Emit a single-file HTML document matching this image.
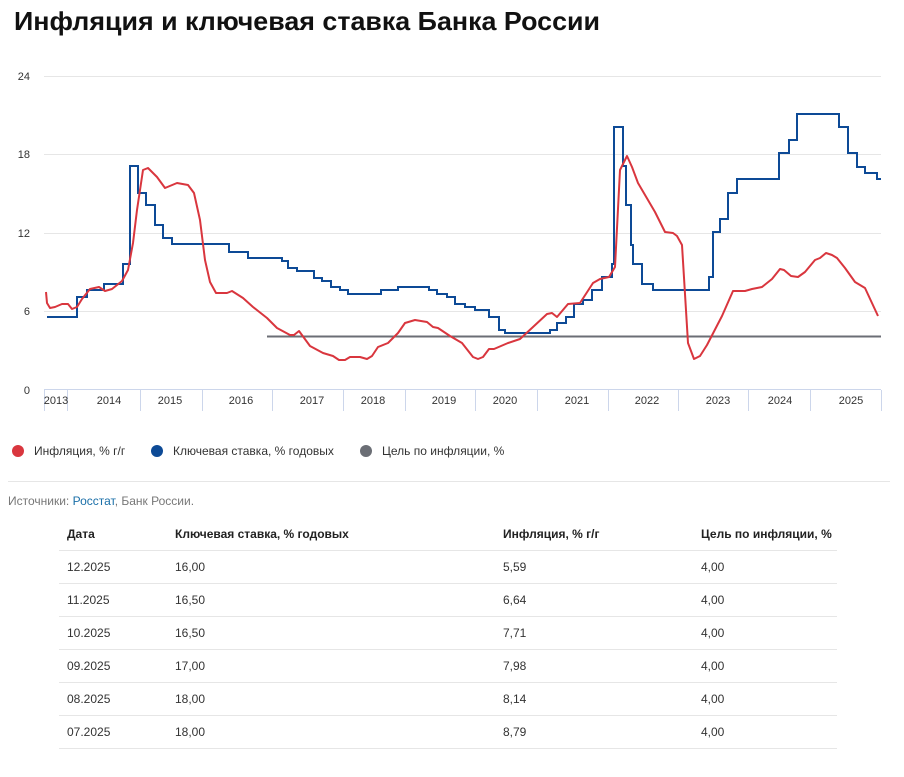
<!DOCTYPE html>
<html><head><meta charset="utf-8"><style>
html,body{margin:0;padding:0;background:#fff;width:904px;height:777px;overflow:hidden}
svg{display:block}
text{font-family:"Liberation Sans",sans-serif}
</style></head><body>
<svg width="904" height="777" viewBox="0 0 904 777" xmlns="http://www.w3.org/2000/svg">
<text x="14" y="30" font-size="26" font-weight="bold" fill="#111" textLength="586" lengthAdjust="spacingAndGlyphs">Инфляция и ключевая ставка Банка России</text>
<g stroke="#e6e6e6" stroke-width="1">
<line x1="44" y1="76.5" x2="881" y2="76.5"/>
<line x1="44" y1="154.5" x2="881" y2="154.5"/>
<line x1="44" y1="233.5" x2="881" y2="233.5"/>
<line x1="44" y1="311.5" x2="881" y2="311.5"/>
</g>
<line x1="44" y1="389.5" x2="881" y2="389.5" stroke="#ccd6eb"/>
<g stroke="#ccd6eb">
<line x1="44.5" y1="390" x2="44.5" y2="411"/><line x1="67.5" y1="390" x2="67.5" y2="411"/>
<line x1="140.5" y1="390" x2="140.5" y2="411"/><line x1="202.5" y1="390" x2="202.5" y2="411"/>
<line x1="272.5" y1="390" x2="272.5" y2="411"/><line x1="343.5" y1="390" x2="343.5" y2="411"/>
<line x1="405.5" y1="390" x2="405.5" y2="411"/><line x1="475.5" y1="390" x2="475.5" y2="411"/>
<line x1="537.5" y1="390" x2="537.5" y2="411"/><line x1="608.5" y1="390" x2="608.5" y2="411"/>
<line x1="678.5" y1="390" x2="678.5" y2="411"/><line x1="748.5" y1="390" x2="748.5" y2="411"/>
<line x1="810.5" y1="390" x2="810.5" y2="411"/><line x1="881.5" y1="390" x2="881.5" y2="411"/>
</g>
<g font-size="11" fill="#333" text-anchor="end">
<text x="30" y="80">24</text><text x="30" y="158">18</text><text x="30" y="237">12</text><text x="30" y="315">6</text><text x="30" y="394">0</text>
</g>
<g font-size="11" fill="#333" text-anchor="middle">
<text x="56" y="404">2013</text><text x="109" y="404">2014</text><text x="170" y="404">2015</text><text x="241" y="404">2016</text>
<text x="312" y="404">2017</text><text x="373" y="404">2018</text><text x="444" y="404">2019</text><text x="505" y="404">2020</text>
<text x="577" y="404">2021</text><text x="647" y="404">2022</text><text x="718" y="404">2023</text><text x="780" y="404">2024</text><text x="851" y="404">2025</text>
</g>
<line x1="267" y1="336.5" x2="881" y2="336.5" stroke="#6b6e75" stroke-width="2"/>
<polyline fill="none" stroke="#0d4a96" stroke-width="2" points="47,317 77,317 77,297 87,297 87,290 104,290 104,284 123,284 123,264 130,264 130,166 138,166 138,193 146,193 146,205 155,205 155,225 163,225 163,238 172,238 172,244 229,244 229,252 248,252 248,258 282,258 282,261 288,261 288,268 297,268 297,271 314,271 314,278 322,278 322,281 331,281 331,287 340,287 340,290 348,290 348,294 381,294 381,290 398,290 398,287 429,287 429,290 437,290 437,294 447,294 447,297 455,297 455,304 465,304 465,307 475,307 475,310 489,310 489,317 499,317 499,330 505,330 505,333 550,333 550,330 557,330 557,323 566,323 566,317 574,317 574,304 583,304 583,300 592,300 592,290 602,290 602,277 612,277 612,264 614,264 614,127 623,127 623,166 626,166 626,205 631,205 631,245 633,245 633,264 642,264 642,284 653,284 653,290 709,290 709,277 713,277 713,232 720,232 720,219 728,219 728,193 737,193 737,179 779,179 779,153 789,153 789,140 797,140 797,114 839,114 839,127 848,127 848,153 857,153 857,167 865,167 865,173 877,173 877,179 881,179"/>
<polyline fill="none" stroke="#d9363e" stroke-width="2" stroke-linejoin="round" points="46,292 47,303 50,308 55,307 62,304 68,304 72,309 77,307 82,299 90,289 99,287 105,291 112,289 122,281 128,270 133,243 137,210 143,170 148,168 157,177 165,188 177,183 188,185 194,193 200,220 205,260 210,282 216,293 227,293 232,291 243,298 253,307 267,318 277,328 290,335 294,335 299,331 310,346 323,353 333,356 339,360 345,360 350,357 360,357 367,359 372,356 378,347 388,343 398,333 405,323 415,320 427,322 433,327 438,328 450,336 462,343 473,357 478,359 483,357 489,349 494,349 508,343 520,339 533,327 547,314 552,313 557,317 568,304 580,303 593,283 600,279 609,277 615,267 620,170 627,156 632,167 638,183 655,212 665,232 673,233 677,236 682,245 688,343 694,359 700,356 707,345 722,316 733,291 745,291 752,289 762,287 772,279 780,269 784,270 791,276 798,277 805,272 815,260 820,258 826,253 832,255 837,258 845,268 855,282 865,288 878,316"/>
<g font-size="12" fill="#333">
<circle cx="18" cy="451" r="6" fill="#d9363e"/><text x="34" y="455">Инфляция, % г/г</text>
<circle cx="157" cy="451" r="6" fill="#0d4a96"/><text x="173" y="455">Ключевая ставка, % годовых</text>
<circle cx="366" cy="451" r="6" fill="#6b6e75"/><text x="382" y="455">Цель по инфляции, %</text>
</g>
<line x1="8" y1="481.5" x2="890" y2="481.5" stroke="#e6e6e6"/>
<text x="8" y="505" font-size="12" fill="#777">Источники: <tspan fill="#1a6fa8">Росстат</tspan>, Банк России.</text>
<g font-size="12" font-weight="bold" fill="#222">
<text x="67" y="538">Дата</text><text x="175" y="538">Ключевая ставка, % годовых</text><text x="503" y="538">Инфляция, % г/г</text><text x="701" y="538">Цель по инфляции, %</text>
</g>
<g stroke="#e6e6e6">
<line x1="59" y1="550.5" x2="837" y2="550.5"/><line x1="59" y1="583.5" x2="837" y2="583.5"/><line x1="59" y1="616.5" x2="837" y2="616.5"/>
<line x1="59" y1="649.5" x2="837" y2="649.5"/><line x1="59" y1="682.5" x2="837" y2="682.5"/><line x1="59" y1="715.5" x2="837" y2="715.5"/><line x1="59" y1="748.5" x2="837" y2="748.5"/>
</g>
<g font-size="12" fill="#333">
<text x="67" y="571">12.2025</text><text x="175" y="571">16,00</text><text x="503" y="571">5,59</text><text x="701" y="571">4,00</text>
<text x="67" y="604">11.2025</text><text x="175" y="604">16,50</text><text x="503" y="604">6,64</text><text x="701" y="604">4,00</text>
<text x="67" y="637">10.2025</text><text x="175" y="637">16,50</text><text x="503" y="637">7,71</text><text x="701" y="637">4,00</text>
<text x="67" y="670">09.2025</text><text x="175" y="670">17,00</text><text x="503" y="670">7,98</text><text x="701" y="670">4,00</text>
<text x="67" y="703">08.2025</text><text x="175" y="703">18,00</text><text x="503" y="703">8,14</text><text x="701" y="703">4,00</text>
<text x="67" y="736">07.2025</text><text x="175" y="736">18,00</text><text x="503" y="736">8,79</text><text x="701" y="736">4,00</text>
</g>
</svg>
</body></html>
